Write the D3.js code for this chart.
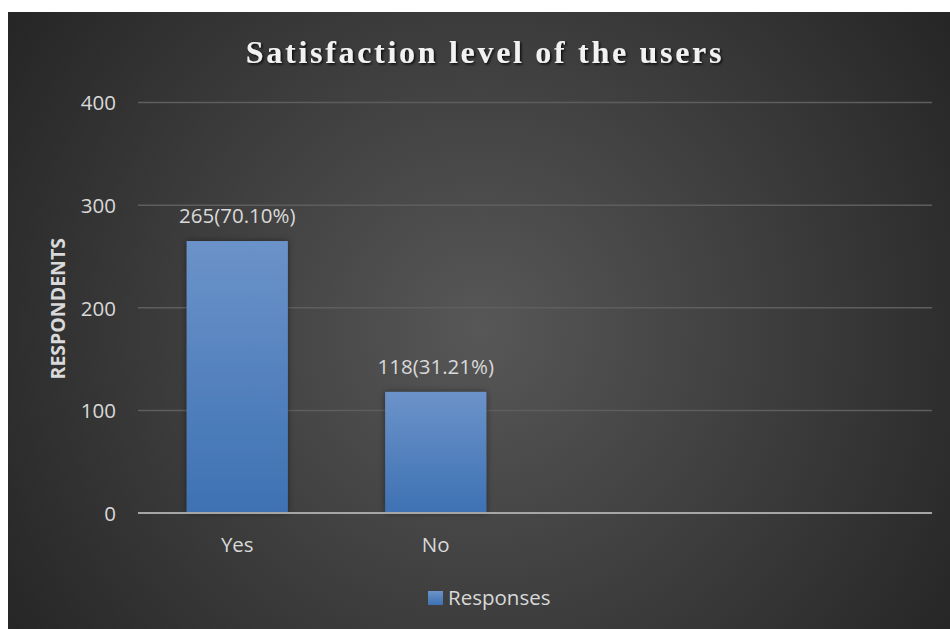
<!DOCTYPE html>
<html><head><meta charset="utf-8">
<script src="https://cdn.jsdelivr.net/npm/d3@7"></script>
<style>html,body{margin:0;padding:0;background:#fff;}svg{display:block;}</style>
</head><body>
<script>
const categories = ["Yes", "No", "", " "];
const responses = [265, 118, null, null];
const dataLabels = ["265(70.10%)", "118(31.21%)", "", ""];
const yTicks = [0, 100, 200, 300, 400];
const title = "Satisfaction level of the users";
const yTitle = "RESPONDENTS";
const seriesName = "Responses";

const W = 950, H = 629;
const FONT = "'Open Sans', 'Noto Sans', sans-serif";
const FS = 20.5;
const svg = d3.select("body").append("svg").attr("width", W).attr("height", H);
const defs = svg.append("defs");
const rg = defs.append("radialGradient").attr("id","bg").attr("gradientUnits","userSpaceOnUse")
  .attr("cx",480).attr("cy",330).attr("r",560);
rg.append("stop").attr("offset","0").attr("stop-color","#575757");
rg.append("stop").attr("offset","1").attr("stop-color","#262626");
const bgr = defs.append("linearGradient").attr("id","bar").attr("x1",0).attr("y1",0).attr("x2",0).attr("y2",1);
bgr.append("stop").attr("offset","0").attr("stop-color","#6b93c9");
bgr.append("stop").attr("offset","1").attr("stop-color","#3e71b3");
const sh = defs.append("filter").attr("id","shadow").attr("x","-20%").attr("y","-20%").attr("width","140%").attr("height","140%");
sh.append("feDropShadow").attr("dx",0).attr("dy",0).attr("stdDeviation",3).attr("flood-color","#000").attr("flood-opacity",0.45);
const tsh = defs.append("filter").attr("id","tshadow");
tsh.append("feDropShadow").attr("dx",1.5).attr("dy",1.5).attr("stdDeviation",1.2).attr("flood-color","#000").attr("flood-opacity",0.8);

svg.append("rect").attr("x",8).attr("y",12).attr("width",W-8).attr("height",H-12).attr("fill","url(#bg)");

const m = {left:138, right:932, top:102.5, bottom:513};
const x = d3.scaleBand().domain(categories).range([m.left, m.right]).paddingInner(0.49).paddingOuter(0.245);
const y = d3.scaleLinear().domain([0,400]).range([m.bottom, m.top]);

// gridlines
svg.append("g").selectAll("line").data(yTicks.filter(d=>d>0)).join("line")
  .attr("x1",m.left).attr("x2",m.right).attr("y1",d=>y(d)).attr("y2",d=>y(d))
  .attr("stroke","#5e5e5e").attr("stroke-width",1.5);

// y axis labels
const yAxis = d3.axisLeft(y).tickValues(yTicks).tickSize(0).tickPadding(22);
const ga = svg.append("g").attr("transform",`translate(${m.left},0)`).call(yAxis);
ga.select(".domain").remove();
ga.selectAll("text").attr("fill","#d9d9d9").attr("font-family",FONT).attr("font-size",FS).attr("dy","0.36em");

// bars
const bars = categories.map((c,i)=>({c, v:responses[i], l:dataLabels[i]})).filter(d=>d.v!=null);
svg.append("g").selectAll("rect").data(bars).join("rect")
  .attr("x",d=>x(d.c)).attr("width",x.bandwidth())
  .attr("y",d=>y(d.v)).attr("height",d=>y(0)-y(d.v))
  .attr("fill","url(#bar)").attr("filter","url(#shadow)");

// baseline
svg.append("line").attr("x1",m.left).attr("x2",m.right).attr("y1",y(0)).attr("y2",y(0))
  .attr("stroke","#a6a6a6").attr("stroke-width",2);

// data labels
svg.append("g").selectAll("text").data(bars).join("text")
  .attr("x",d=>x(d.c)+x.bandwidth()/2).attr("y",d=>y(d.v)-18)
  .attr("text-anchor","middle").attr("fill","#d9d9d9")
  .attr("font-family",FONT).attr("font-size",FS)
  .text(d=>d.l);

// x axis labels
const xAxis = d3.axisBottom(x).tickSize(0).tickPadding(24);
const gx = svg.append("g").attr("transform",`translate(0,${m.bottom})`).call(xAxis);
gx.select(".domain").remove();
gx.selectAll("text").attr("fill","#d9d9d9").attr("font-family",FONT).attr("font-size",FS);

// title
svg.append("text").attr("x",485).attr("y",63).attr("text-anchor","middle")
  .attr("fill","#f2f2f2").attr("font-family","'Liberation Serif', 'Times New Roman', serif")
  .attr("font-weight","bold").attr("font-size",32).attr("letter-spacing",2.7)
  .attr("filter","url(#tshadow)").text(title);

// y title
svg.append("text").attr("transform",`translate(65,${(m.top+m.bottom)/2+1}) rotate(-90)`)
  .attr("text-anchor","middle").attr("fill","#d9d9d9")
  .attr("font-family",FONT).attr("font-weight","bold").attr("font-size",19.5)
  .text(yTitle);

// legend
const lg = svg.append("g");
lg.append("rect").attr("x",428).attr("y",591).attr("width",15).attr("height",14).attr("fill","url(#bar)");
lg.append("text").attr("x",448).attr("y",605).attr("fill","#d9d9d9")
  .attr("font-family",FONT).attr("font-size",FS).text(seriesName);
</script>
</body></html>
